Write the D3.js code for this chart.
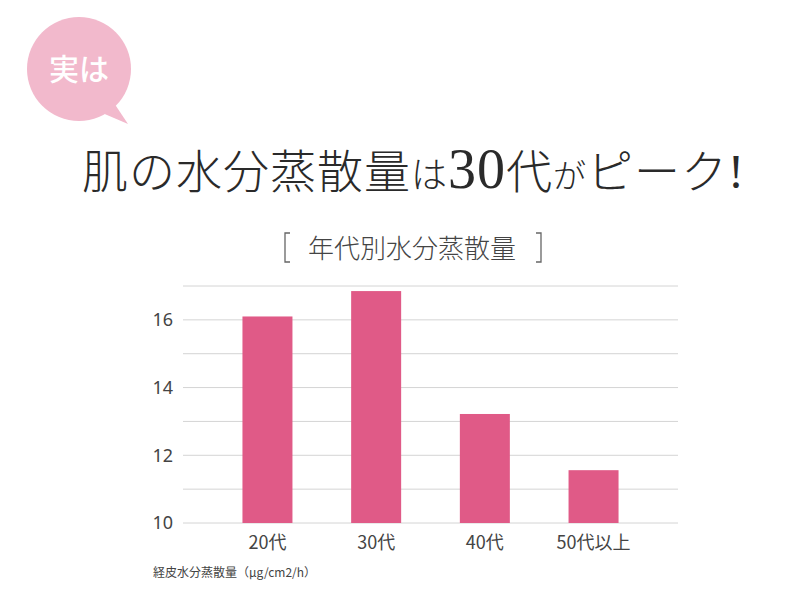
<!DOCTYPE html>
<html>
<head>
<meta charset="utf-8">
<script src="https://cdn.jsdelivr.net/npm/d3@7"></script>
<style>
  body { margin: 0; background: #fff; }
  svg { display: block; }
</style>
</head>
<body>
<svg id="chart" width="800" height="597"></svg>
<script>
// values
var categories = ['20代', '30代', '40代', '50代以上'];
var values = [16.1, 16.85, 13.22, 11.56];
var yTicks = [10, 12, 14, 16];
var gridTicks = [10, 11, 12, 13, 14, 15, 16, 17];

var svg = d3.select('#chart');
var jp = '"Noto Sans CJK JP", "Noto Sans", sans-serif';

// speech bubble
var bubble = svg.append('g');
bubble.append('path')
  .attr('d', 'M112,100 L128,124 L100,112 Z')
  .attr('fill', '#f2b9cc');
bubble.append('circle')
  .attr('cx', 79).attr('cy', 69).attr('r', 52)
  .attr('fill', '#f2b9cc');
bubble.append('text')
  .attr('x', 79).attr('y', 80)
  .attr('text-anchor', 'middle')
  .attr('fill', '#fff')
  .style('font-family', jp)
  .style('font-weight', 500)
  .style('font-size', '30px')
  .text('実は');

// headline
var title = svg.append('text')
  .attr('x', 82).attr('y', 188)
  .attr('fill', '#2a2a2a')
  .attr('textLength', 662)
  .attr('lengthAdjust', 'spacing')
  .style('font-family', jp)
  .style('font-weight', 300);
var parts = [
  { t: '肌の水分蒸散量', s: 46 },
  { t: 'は', s: 36 },
  { t: '30', s: 56, serif: true },
  { t: '代', s: 46 },
  { t: 'が', s: 33 },
  { t: 'ピーク', s: 46 },
  { t: '!', s: 48, serif: true }
];
parts.forEach(function (p) {
  title.append('tspan')
    .style('font-size', p.s + 'px')
    .style('font-family', p.serif ? '"Liberation Serif", "DejaVu Serif", serif' : jp)
    .text(p.t);
});

// subtitle with brackets
var sub = svg.append('g')
  .attr('fill', '#444')
  .style('font-family', jp)
  .style('font-weight', 300);
sub.append('text')
  .attr('x', 412).attr('y', 258)
  .attr('text-anchor', 'middle')
  .style('font-size', '26px')
  .text('年代別水分蒸散量');
sub.append('path')
  .attr('d', 'M290,233 H285 V262 H290 M536,233 H541 V262 H536')
  .attr('fill', 'none')
  .attr('stroke', '#666')
  .attr('stroke-width', 1.3);

// chart
var x = d3.scaleBand()
  .domain(categories)
  .range([183, 678])
  .paddingInner(0.54)
  .paddingOuter(0.547);

var y = d3.scaleLinear()
  .domain([10, 17])
  .range([523, 286]);

svg.append('g')
  .selectAll('line')
  .data(gridTicks)
  .join('line')
  .attr('x1', 183).attr('x2', 678)
  .attr('y1', function (d) { return y(d); })
  .attr('y2', function (d) { return y(d); })
  .attr('stroke', '#d4d4d4')
  .attr('stroke-width', 1);

svg.append('g')
  .selectAll('rect')
  .data(values)
  .join('rect')
  .attr('x', function (d, i) { return x(categories[i]); })
  .attr('width', x.bandwidth())
  .attr('y', function (d) { return y(d); })
  .attr('height', function (d) { return y(10) - y(d); })
  .attr('fill', '#e05a87');

var yAxis = svg.append('g')
  .attr('transform', 'translate(173,0)')
  .call(d3.axisLeft(y).tickValues(yTicks).tickFormat(d3.format('d')).tickSize(0).tickPadding(0));
yAxis.select('.domain').remove();
yAxis.selectAll('text')
  .attr('fill', '#444')
  .style('font-family', '"Noto Sans", sans-serif')
  .style('font-size', '18px');

var xAxis = svg.append('g')
  .attr('transform', 'translate(0,532)')
  .call(d3.axisBottom(x).tickSize(0).tickPadding(0));
xAxis.select('.domain').remove();
xAxis.selectAll('text')
  .attr('fill', '#444')
  .attr('dy', '0.95em')
  .style('font-family', jp)
  .style('font-size', '18px');

svg.append('text')
  .attr('x', 153).attr('y', 577)
  .attr('fill', '#444')
  .style('font-family', jp)
  .style('font-size', '12px')
  .text('経皮水分蒸散量（μg/cm2/h）');
</script>
</body>
</html>
